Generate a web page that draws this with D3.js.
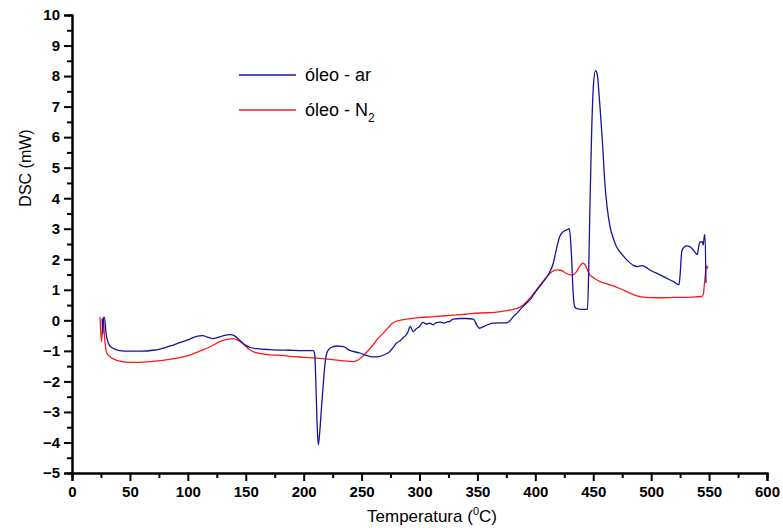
<!DOCTYPE html>
<html>
<head>
<meta charset="utf-8">
<script src="https://cdn.jsdelivr.net/npm/d3@7"></script>
<style>
  html, body { margin: 0; padding: 0; background: #fff; }
  svg { display: block; }
  text { font-family: "Liberation Sans", Arial, sans-serif; }
</style>
</head>
<body>
<svg id="chart" width="783" height="528"></svg>
<script>
// DSC curves of the oil: heat flow (mW) against temperature (°C)
const airTemp = [26.0, 26.6, 27.2, 28.0, 29.5, 31.4, 34, 37, 41, 50, 60, 70, 76, 85, 93, 100, 105, 110, 113, 117, 121.5, 126, 131, 136.5, 140, 145, 150, 154, 160, 171, 188, 200, 208.3, 209.5, 210.5, 211.5, 212.6, 214, 215.5, 217, 218.5, 220, 222.7, 225.5, 228.5, 233, 235.7, 238.5, 242.7, 248.6, 254, 260, 266, 270, 274.5, 278, 280, 283, 286, 288, 290, 292, 294.5, 297, 300, 303, 306, 309, 311.7, 314, 317.7, 321, 324, 326, 329, 335, 340, 346.5, 349.4, 351.6, 356.6, 363.7, 370, 375, 378, 381, 385, 388, 392, 395.4, 400, 407, 412, 415.5, 418, 421, 424, 427, 429.3, 430.5, 431.4, 432.5, 434, 436, 440, 445, 446, 447, 448.5, 450, 452, 453.5, 455, 456, 458, 460, 462, 464.5, 467, 470, 475, 479, 484.7, 488, 492, 495, 499, 507.6, 516, 520, 524, 525, 526.4, 528.5, 530.7, 533, 535, 537.5, 539.8, 541, 542, 544, 545, 546, 546.5, 547.3];
const airDSC = [0.05, -0.45, 0.1, 0.1, -0.45, -0.75, -0.88, -0.94, -0.99, -1.01, -1.01, -0.98, -0.94, -0.84, -0.73, -0.64, -0.56, -0.51, -0.5, -0.55, -0.6, -0.56, -0.5, -0.47, -0.5, -0.66, -0.82, -0.89, -0.93, -0.96, -0.98, -0.99, -0.99, -1.1, -2.0, -3.3, -4.08, -3.6, -2.8, -2.06, -1.4, -1.07, -0.91, -0.86, -0.84, -0.85, -0.88, -0.96, -1.02, -1.07, -1.15, -1.2, -1.18, -1.12, -1.02, -0.85, -0.75, -0.68, -0.56, -0.5, -0.38, -0.2, -0.37, -0.28, -0.2, -0.07, -0.12, -0.09, -0.15, -0.08, -0.06, -0.09, -0.05, -0.04, 0.04, 0.06, 0.06, 0.04, -0.15, -0.26, -0.18, -0.09, -0.08, -0.08, -0.02, 0.12, 0.27, 0.4, 0.55, 0.67, 0.92, 1.27, 1.55, 1.87, 2.3, 2.74, 2.9, 2.96, 3.0, 2.6, 1.98, 1.0, 0.45, 0.38, 0.36, 0.36, 1.5, 3.5, 6.0, 7.6, 8.18, 8.05, 7.4, 6.9, 5.8, 4.5, 3.7, 3.07, 2.72, 2.42, 2.15, 1.98, 1.8, 1.76, 1.79, 1.75, 1.65, 1.49, 1.33, 1.25, 1.16, 1.5, 2.25, 2.4, 2.44, 2.42, 2.36, 2.25, 2.15, 2.4, 2.56, 2.58, 2.47, 2.8, 2.8, 1.22];

const n2Temp = [24.2, 25.5, 26.2, 27.0, 28.0, 30, 33, 35.7, 38.6, 45, 52.7, 65, 80, 93, 103, 113, 120, 128, 134, 139, 143, 147.6, 152, 156, 163, 171, 182, 188, 200, 211, 225, 235, 243, 247, 251, 255, 260, 264, 268.7, 273, 277, 283, 289, 300, 312, 326, 340, 352, 365, 375, 385, 390, 395.4, 398, 404, 410, 414, 418.4, 422, 426, 430, 433, 435.7, 438, 441, 443, 445, 447, 451, 456, 463, 470, 477, 485, 493, 505, 520, 535, 543.6, 545, 546, 547, 547.5, 548.5, 548.8];
const n2DSC = [0.1, -0.7, -0.3, 0.1, -0.5, -1.07, -1.2, -1.26, -1.31, -1.36, -1.38, -1.36, -1.3, -1.22, -1.12, -0.97, -0.85, -0.69, -0.62, -0.6, -0.65, -0.77, -0.92, -1.02, -1.09, -1.13, -1.15, -1.18, -1.21, -1.24, -1.29, -1.33, -1.35, -1.3, -1.18, -1.02, -0.8, -0.6, -0.42, -0.24, -0.09, 0.0, 0.04, 0.09, 0.12, 0.16, 0.2, 0.24, 0.26, 0.32, 0.4, 0.52, 0.73, 0.85, 1.15, 1.43, 1.58, 1.65, 1.64, 1.55, 1.49, 1.5, 1.6, 1.75, 1.87, 1.82, 1.65, 1.49, 1.38, 1.27, 1.18, 1.09, 0.97, 0.84, 0.76, 0.74, 0.75, 0.76, 0.78, 0.85, 1.2, 1.6, 1.78, 1.7, 1.78];

const seriesNames = ["óleo - ar", "óleo - N"];
const seriesColors = ["#1414a0", "#ff1a1a"];

const xTicks = d3.range(0, 601, 50);
const yTicks = d3.range(-5, 11, 1);

const svg = d3.select("#chart");
const plotLeft = 72, plotRight = 767, plotTop = 15, plotBottom = 473;

const x = d3.scaleLinear().domain([0, 600]).range([plotLeft, plotRight]);
const y = d3.scaleLinear().domain([-5, 10]).range([plotBottom, plotTop]);

const tickFont = "15px";

function styleAxis(g) {
  g.selectAll(".domain").attr("stroke", "#000").attr("stroke-width", 2);
  g.selectAll(".tick line").attr("stroke", "#000").attr("stroke-width", 2);
  g.selectAll("text").attr("fill", "#000").style("font-size", tickFont).style("font-weight", "bold")
    .style("font-family", "Liberation Sans, Arial, sans-serif");
}

// x axis: minor ticks every 25, labelled major ticks every 50
const xAxis = svg.append("g").attr("transform", `translate(0,${plotBottom})`);
xAxis.append("g").call(d3.axisBottom(x).tickValues(d3.range(25, 600, 50)).tickSize(5).tickFormat(""));
xAxis.append("g").call(d3.axisBottom(x).tickValues(xTicks).tickSize(8).tickPadding(5));
styleAxis(xAxis);

// y axis: minor ticks every 0.5, labelled major ticks every 1
const yAxis = svg.append("g").attr("transform", `translate(${plotLeft},0)`);
yAxis.append("g").call(d3.axisLeft(y).tickValues(d3.range(-4.5, 10, 1)).tickSize(5).tickFormat(""));
yAxis.append("g").call(d3.axisLeft(y).tickValues(yTicks).tickSize(8).tickPadding(4));
styleAxis(yAxis);

// axis titles
svg.append("text")
  .attr("transform", "translate(31,168) rotate(-90)")
  .attr("text-anchor", "middle")
  .style("font-size", "16px")
  .text("DSC (mW)");

const xt = svg.append("text")
  .attr("x", 432).attr("y", 522)
  .attr("text-anchor", "middle")
  .style("font-size", "17px");
xt.append("tspan").text("Temperatura (");
xt.append("tspan").attr("dy", -7).style("font-size", "11px").text("0");
xt.append("tspan").attr("dy", 7).text("C)");

// curves
const line = d3.line()
  .x(d => x(d[0]))
  .y(d => y(d[1]))
  .curve(d3.curveMonotoneX);

const airData = d3.zip(airTemp, airDSC);
const n2Data = d3.zip(n2Temp, n2DSC);

svg.append("path").datum(n2Data)
  .attr("fill", "none").attr("stroke", seriesColors[1]).attr("stroke-width", 1.3)
  .attr("d", line);
svg.append("path").datum(airData)
  .attr("fill", "none").attr("stroke", seriesColors[0]).attr("stroke-width", 1.3)
  .attr("d", line);

// legend
const legend = svg.append("g");
[0, 1].forEach(i => {
  const ly = 75 + i * 35;
  legend.append("line")
    .attr("x1", 239).attr("x2", 296).attr("y1", ly).attr("y2", ly)
    .attr("stroke", seriesColors[i]).attr("stroke-width", 1.3);
  const t = legend.append("text")
    .attr("x", 305).attr("y", ly + 6)
    .style("font-size", "18px")
    .text(seriesNames[i]);
  if (i === 1) {
    t.append("tspan").attr("dy", 6).style("font-size", "12px").text("2");
  }
});
</script>
</body>
</html>
